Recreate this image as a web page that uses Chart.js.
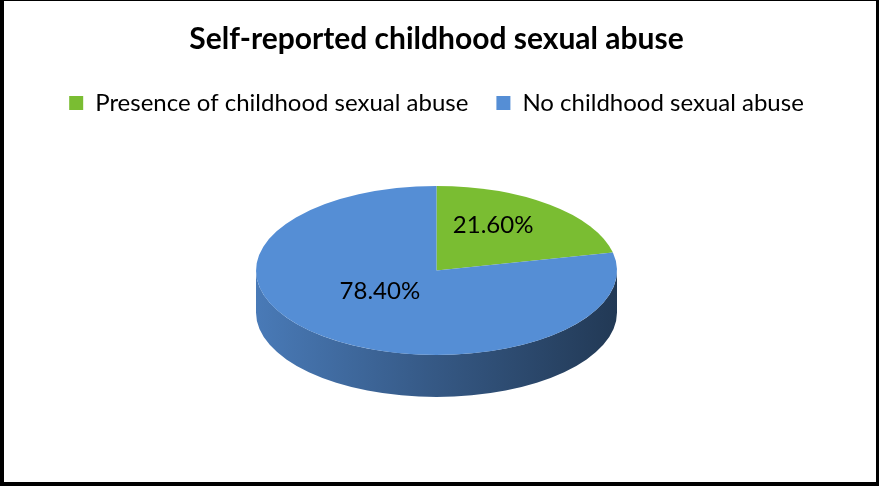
<!DOCTYPE html>
<html>
<head>
<meta charset="utf-8">
<script src="https://cdn.jsdelivr.net/npm/chart.js@4.4.0/dist/chart.umd.min.js"></script>
<style>
  html, body { margin: 0; padding: 0; background: #fff; }
  #wrap { width: 879px; height: 486px; position: relative; }
</style>
</head>
<body>
<div id="wrap"><canvas id="c" width="879" height="486"></canvas></div>
<script>
// Chart content
const chartTitle = 'Self-reported childhood sexual abuse';
const categories = ['Presence of childhood sexual abuse', 'No childhood sexual abuse'];
const percentages = [21.6, 78.4];
const sliceColors = ['#7ABD32', '#558ED5'];

// Look of the disc
const TILT = 0.468;        // vertical squash of the top face
const DEPTH = 42;          // thickness of the disc, px
const LABEL_RADIUS = 0.5;  // label distance from centre, fraction of radius
const LABEL_LIFT = 12;     // labels sit a little above the slice's mid line

function shade(hex, f) {
  const n = parseInt(hex.slice(1), 16);
  const r = Math.round(((n >> 16) & 255) * f);
  const g = Math.round(((n >> 8) & 255) * f);
  const b = Math.round((n & 255) * f);
  return `rgb(${r},${g},${b})`;
}

// Draws the pie as a tilted disc: front wall first, then the slices
// squashed vertically, then the percentage labels on top.
const pie3d = {
  id: 'pie3d',
  beforeDatasetsDraw(chart) {
    const meta = chart.getDatasetMeta(0);
    const first = meta.data[0].getProps(['x', 'y', 'outerRadius'], true);
    const cx = first.x, cy = first.y, r = first.outerRadius;
    const topY = cy - DEPTH / 2;
    const ctx = chart.ctx;
    const colors = chart.data.datasets[0].backgroundColor;

    ctx.save();
    meta.data.forEach((arc, i) => {
      const { startAngle, endAngle } = arc.getProps(['startAngle', 'endAngle'], true);
      for (let k = -1; k <= 1; k++) {
        const lo = Math.max(startAngle, 2 * Math.PI * k);
        const hi = Math.min(endAngle, 2 * Math.PI * k + Math.PI);
        if (hi <= lo) continue;
        ctx.beginPath();
        ctx.ellipse(cx, topY, r, r * TILT, 0, lo, hi, false);
        ctx.ellipse(cx, topY + DEPTH, r, r * TILT, 0, hi, lo, true);
        ctx.closePath();
        const g = ctx.createLinearGradient(cx - r, 0, cx + r, 0);
        g.addColorStop(0, shade(colors[i], 0.86));
        g.addColorStop(0.5, shade(colors[i], 0.62));
        g.addColorStop(1, shade(colors[i], 0.40));
        ctx.fillStyle = g;
        ctx.fill();
      }
    });
    ctx.restore();

    ctx.save();
    ctx.translate(cx, topY);
    ctx.scale(1, TILT);
    ctx.translate(-cx, -cy);
  },
  afterDatasetsDraw(chart) {
    const ctx = chart.ctx;
    ctx.restore();
    const meta = chart.getDatasetMeta(0);
    const values = chart.data.datasets[0].data;
    ctx.save();
    ctx.fillStyle = '#000';
    ctx.font = '24px Lato';
    ctx.textAlign = 'center';
    ctx.textBaseline = 'middle';
    meta.data.forEach((arc, i) => {
      const p = arc.getProps(['x', 'y', 'startAngle', 'endAngle', 'outerRadius'], true);
      const mid = (p.startAngle + p.endAngle) / 2;
      const topY = p.y - DEPTH / 2;
      const lx = p.x + Math.cos(mid) * p.outerRadius * LABEL_RADIUS;
      const ly = topY + Math.sin(mid) * p.outerRadius * TILT * LABEL_RADIUS - LABEL_LIFT;
      ctx.fillText(values[i].toFixed(2) + '%', lx, ly);
    });
    ctx.restore();
  },
  afterDraw(chart) {
    const ctx = chart.ctx;
    const w = chart.width, h = chart.height;
    ctx.save();
    ctx.fillStyle = '#000';
    ctx.fillRect(0, 0, 4, h);
    ctx.fillRect(0, 0, w, 1);
    ctx.fillRect(w - 3, 0, 3, h);
    ctx.fillRect(0, h - 4, w, 4);
    ctx.restore();
  }
};

new Chart(document.getElementById('c'), {
  type: 'pie',
  data: {
    labels: categories,
    datasets: [{
      data: percentages,
      backgroundColor: sliceColors,
      borderWidth: 0,
      hoverOffset: 0
    }]
  },
  plugins: [pie3d],
  options: {
    responsive: false,
    animation: false,
    radius: 180.5,
    layout: { padding: { left: 0, right: 6, top: 0, bottom: 28 } },
    plugins: {
      title: {
        display: true,
        text: chartTitle,
        color: '#000',
        font: { family: 'Lato', size: 30, weight: 'bold' },
        padding: { top: 21, bottom: 6 }
      },
      legend: {
        position: 'top',
        labels: {
          color: '#000',
          boxWidth: 14,
          boxHeight: 14,
          padding: 28,
          font: { family: 'Lato', size: 24 }
        }
      },
      tooltip: { enabled: false }
    }
  }
});
</script>
</body>
</html>
